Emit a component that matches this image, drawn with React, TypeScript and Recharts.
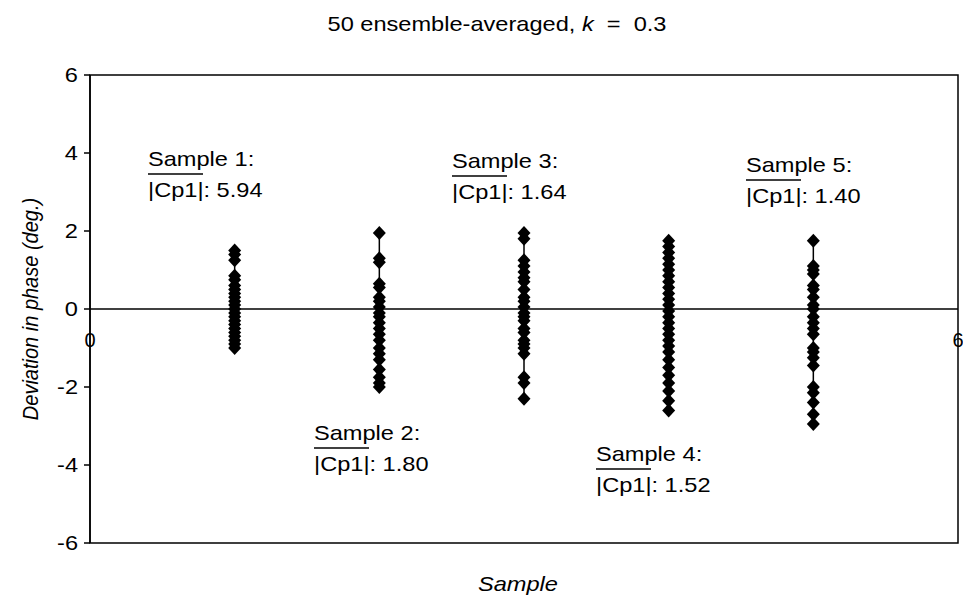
import React from 'react';
import {
  ScatterChart,
  Scatter,
  XAxis,
  YAxis,
  ReferenceLine,
  ReferenceArea,
  ReferenceDot,
  Customized,
} from 'recharts';

const sampleX = [1, 2, 3, 4, 5];
const sample1 = [1.5, 1.4, 1.25, 0.85, 0.75, 0.6, 0.5, 0.4, 0.3, 0.2, 0.1, 0.0, -0.1, -0.2, -0.3, -0.4, -0.5, -0.6, -0.7, -0.8, -0.9, -1.0];
const sample2 = [1.95, 1.3, 1.2, 0.65, 0.55, 0.3, 0.2, 0.05, -0.1, -0.2, -0.35, -0.5, -0.65, -0.8, -1.0, -1.15, -1.3, -1.55, -1.75, -1.9, -2.0];
const sample3 = [1.95, 1.8, 1.25, 1.1, 0.95, 0.8, 0.7, 0.5, 0.3, 0.2, 0.05, -0.1, -0.2, -0.3, -0.5, -0.6, -0.8, -0.9, -1.0, -1.15, -1.75, -1.9, -2.3];
const sample4 = [1.75, 1.6, 1.45, 1.3, 1.15, 1.0, 0.85, 0.7, 0.55, 0.4, 0.25, 0.1, -0.05, -0.2, -0.35, -0.5, -0.65, -0.8, -0.95, -1.1, -1.3, -1.5, -1.7, -1.9, -2.1, -2.35, -2.6];
const sample5 = [1.75, 1.1, 1.0, 0.9, 0.6, 0.5, 0.3, 0.1, 0.0, -0.2, -0.35, -0.5, -0.65, -1.0, -1.1, -1.25, -1.45, -2.0, -2.15, -2.4, -2.7, -2.95];
const samples = [sample1, sample2, sample3, sample4, sample5];

const yTicks = [-6, -4, -2, 0, 2, 4, 6];
const cpLabels = ['5.94', '1.80', '1.64', '1.52', '1.40'];
// where each annotation sits (pixels)
const notePos = [
  { x: 148, y: 166 },
  { x: 314, y: 440 },
  { x: 452, y: 168 },
  { x: 596, y: 461 },
  { x: 746, y: 172 },
];

const FONT = '"Liberation Sans", Arial, sans-serif';
const SX = 1.18; // the scan is stretched sideways

const SText = ({ x, y, anchor = 'start', size = 20, italic = false, children }: any) => (
  <text
    transform={`translate(${x},${y}) scale(${SX},1)`}
    x={0}
    y={0}
    fontSize={size}
    fontStyle={italic ? 'italic' : 'normal'}
    fontFamily={FONT}
    fill="#000"
    textAnchor={anchor}
  >
    {children}
  </text>
);

const Diamond = (props: any) => {
  const { cx, cy } = props;
  if (cx == null || cy == null) return null;
  return <path d={`M${cx},${cy - 7}L${cx + 6.5},${cy}L${cx},${cy + 7}L${cx - 6.5},${cy}Z`} fill="#000" />;
};

const YTick = (props: any) => {
  const { x, y, payload } = props;
  return (
    <SText x={x} y={y + 7} anchor="end" size={20}>
      {payload.value}
    </SText>
  );
};

const Texts = () => (
  <g>
    <SText x={497} y={31} anchor="middle" size={20}>
      50 ensemble-averaged, <tspan fontStyle="italic">k</tspan>{'\u00a0 =\u00a0 0.3'}
    </SText>
    <text
      x={0}
      y={0}
      fontSize={20}
      fontStyle="italic"
      fontFamily={FONT}
      fill="#000"
      textAnchor="middle"
      transform="translate(38,309) rotate(-90) scale(1,1.1)"
    >
      Deviation in phase (deg.)
    </text>
    <SText x={518} y={591} anchor="middle" size={20} italic>
      Sample
    </SText>
    {notePos.map((p, i) => (
      <g key={i}>
        <SText x={p.x} y={p.y} size={20}>{`Sample ${i + 1}:`}</SText>
        <line x1={p.x} x2={p.x + 55} y1={p.y + 8} y2={p.y + 8} stroke="#000" strokeWidth={1.5} />
        <SText x={p.x} y={p.y + 31} size={20}>{`|Cp1|: ${cpLabels[i]}`}</SText>
      </g>
    ))}
  </g>
);

export default function App() {
  return (
    <div style={{ position: 'absolute', left: 0, top: 0, background: '#fff' }}>
      <ScatterChart width={963} height={600} margin={{ top: 75, right: 5, bottom: 57, left: 0 }}>
        <XAxis type="number" dataKey="x" domain={[0, 6]} hide />
        <YAxis
          type="number"
          dataKey="y"
          domain={[-6, 6]}
          ticks={yTicks}
          width={90}
          tickSize={6}
          tickMargin={6}
          axisLine={{ stroke: '#000', strokeWidth: 1.5 }}
          tickLine={{ stroke: '#000', strokeWidth: 1.5 }}
          tick={<YTick />}
        />
        <ReferenceArea x1={0} x2={6} y1={-6} y2={6} fill="none" stroke="#000" strokeWidth={1.5} />
        <ReferenceLine y={0} stroke="#000" strokeWidth={1.5} />
        <ReferenceDot x={0} y={0} r={0} label={{ value: '0', position: 'bottom', offset: 24, fontSize: 20, fill: '#000', fontFamily: FONT }} />
        <ReferenceDot x={6} y={0} r={0} label={{ value: '6', position: 'bottom', offset: 24, fontSize: 20, fill: '#000', fontFamily: FONT }} />
        {samples.map((vals, i) => (
          <Scatter
            key={i}
            data={vals.map((v) => ({ x: sampleX[i], y: v }))}
            line={{ stroke: '#000', strokeWidth: 1.5 }}
            shape={<Diamond />}
            isAnimationActive={false}
          />
        ))}
        <Customized component={Texts} />
      </ScatterChart>
    </div>
  );
}
